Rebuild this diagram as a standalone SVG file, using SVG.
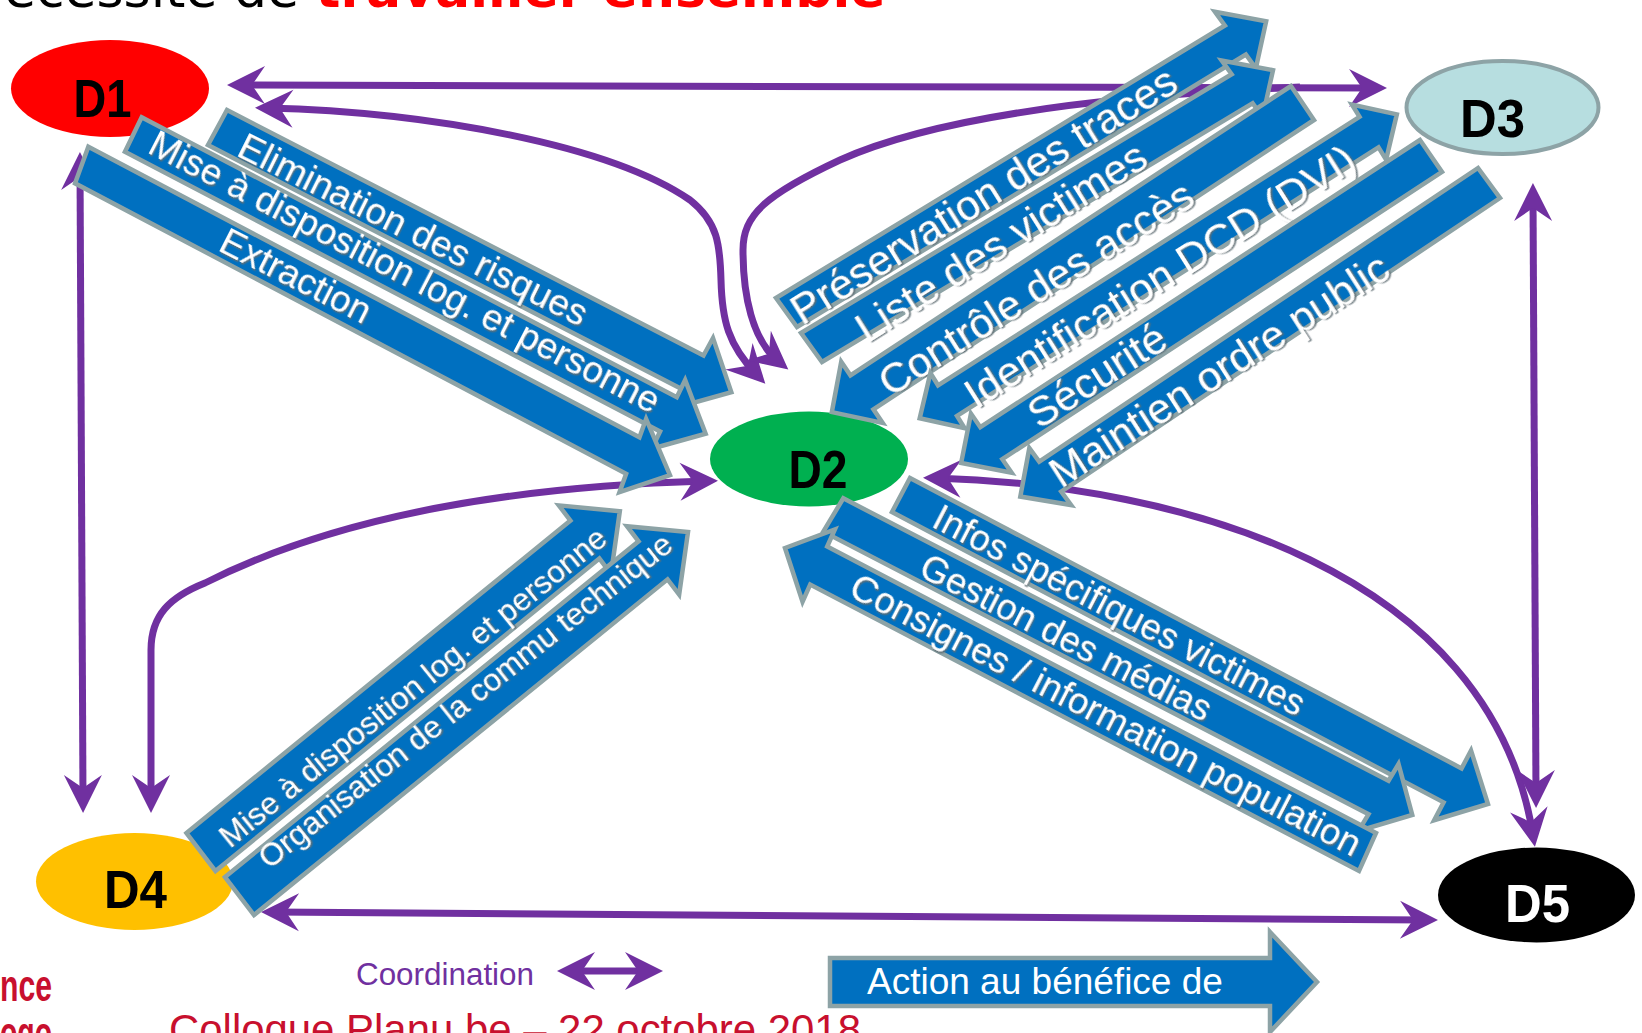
<svg xmlns="http://www.w3.org/2000/svg" width="1642" height="1033" viewBox="0 0 1642 1033">
<style>
.nl{font-family:"Liberation Sans",Arial,sans-serif;font-weight:bold;font-size:54px;text-anchor:middle}
.co{fill:none;stroke:#7030A0;stroke-width:7;marker-start:url(#ah);marker-end:url(#ah)}
.ba{fill:#0070C0;stroke:#8DA3A6;stroke-width:4.5;vector-effect:non-scaling-stroke;stroke-linejoin:miter}
.bt{fill:#FFFFFF;font-family:"Liberation Sans",Arial,sans-serif;filter:url(#sh)}
</style>
<defs>
<marker id="ah" viewBox="-40 -20 42 40" markerWidth="42" markerHeight="40" refX="-12" refY="0" orient="auto-start-reverse" markerUnits="userSpaceOnUse">
<path d="M0,0 L-38,-19 L-25,0 L-38,19 Z" fill="#7030A0"/>
</marker>
<filter id="sh" x="-5%" y="-30%" width="110%" height="160%">
<feDropShadow dx="1.5" dy="1.5" stdDeviation="0.6" flood-color="#5E6E74" flood-opacity="0.85"/>
</filter>
</defs>
<rect width="1642" height="1033" fill="#FFFFFF"/>

<text x="-35" y="7" font-family="DejaVu Sans, sans-serif" font-size="52" fill="#000000">Nécessité de <tspan fill="#FF0000" font-weight="bold">travailler ensemble</tspan></text>

<g id="D1"><ellipse cx="110" cy="88.5" rx="99" ry="48.5" fill="#FF0000"/><text class="nl" x="102.5" y="117" textLength="58" lengthAdjust="spacingAndGlyphs">D1</text></g>
<g id="D2"><ellipse cx="809" cy="459" rx="99" ry="47.5" fill="#00B050"/><text class="nl" x="818" y="488" textLength="59" lengthAdjust="spacingAndGlyphs">D2</text></g>
<g id="D3"><ellipse cx="1502.5" cy="107.5" rx="96" ry="46.5" fill="#B7DEE0" stroke="#8DA3A6" stroke-width="4"/><text class="nl" x="1492.5" y="137" textLength="65" lengthAdjust="spacingAndGlyphs">D3</text></g>
<g id="D4"><ellipse cx="134.5" cy="881.5" rx="98.5" ry="48.5" fill="#FFC000"/><text class="nl" x="135.5" y="908" textLength="63" lengthAdjust="spacingAndGlyphs">D4</text></g>
<g id="D5"><ellipse cx="1536.5" cy="895" rx="98.5" ry="47.5" fill="#000000"/><text class="nl" x="1537.5" y="922" textLength="65" lengthAdjust="spacingAndGlyphs" fill="#FFFFFF">D5</text></g>

<g id="connectors">
<path class="co" d="M239,85 L1375,88"/>
<path class="co" d="M267,108 C430,112 610,145 690,200 C718,222 720,245 721,280 C722,320 728,345 757,375"/>
<path class="co" style="marker-start:none" d="M1300,87 C1120,95 940,115 840,160 C765,195 743,215 743,250 C743,295 752,340 779,362"/>
<path class="co" d="M80,164 L83,801"/>
<path class="co" d="M151,801 L151,650 C151,615 170,597 205,583 C300,535 450,488 706,481"/>
<path class="co" d="M273,912 L1426,920"/>
<path class="co" d="M935,478 C1180,485 1490,570 1533,835"/>
<path class="co" d="M1533,195 L1536,796"/>
</g>

<g id="actions">
<g id="a-elimination">
<polygon class="ba" transform="matrix(0.889 0.458 -9.5 17.5 217.5 127.5)" points="0,-1 536,-1 536,-2 578,0 536,2 536,1 0,1"/>
<text class="bt" font-size="37.5" transform="translate(235,155) rotate(26.5)">Elimination des risques</text>
</g>
<g id="a-mise1">
<polygon class="ba" transform="matrix(0.886 0.4633 -8.35 17.2 133.3 134.5)" points="0,-1 604,-1 604,-2 646,0 604,2 604,1 0,1"/>
<text class="bt" font-size="37" transform="translate(146,152) rotate(27.4)">Mise à disposition log. et personne</text>
</g>
<g id="a-extraction">
<polygon class="ba" transform="matrix(0.8846 0.4664 -6.65 18.3 81.7 165)" points="0,-1 623,-1 623,-2 665,0 623,2 623,1 0,1"/>
<text class="bt" font-size="37" transform="translate(216.7,249.8) rotate(27)">Extraction</text>
</g>
<g id="a-preservation">
<polygon class="ba" transform="matrix(0.855 -0.519 10.5 14.5 786.5 312.5)" points="0,-1 525,-1 525,-1.95 561,0 525,1.95 525,1 0,1"/>
<text class="bt" font-size="42.5" transform="translate(802,326) rotate(-32)">Préservation des traces</text>
</g>
<g id="a-liste">
<polygon class="ba" transform="matrix(0.857 -0.515 10.5 14.5 811.5 347.5)" points="0,-1 502.5,-1 502.5,-1.95 538.5,0 502.5,1.95 502.5,1 0,1"/>
<text class="bt" font-size="42.5" transform="translate(867,344) rotate(-32.3)">Liste des victimes</text>
</g>
<g id="a-controle">
<polygon class="ba" transform="matrix(-0.836 0.549 11.5 17 1302.5 103)" points="0,-1 527,-1 527,-1.8 563,0 527,1.8 527,1 0,1"/>
<text class="bt" font-size="42.5" transform="translate(890,398) rotate(-32.3)">Contrôle des accès</text>
</g>
<g id="a-identification">
<polygon class="ba" transform="matrix(0.843 -0.537 9.5 15.3 919.7 418.3)" points="0,0 33,-1.8 33,-1 533,-1 533,-1.8 566,0 533,1.8 533,1 33,1 33,1.8"/>
<text class="bt" font-size="42.5" transform="translate(976,410) rotate(-32.3)">Identification DCD (DVI)</text>
</g>
<g id="a-securite">
<polygon class="ba" transform="matrix(-0.8375 0.547 11 16 1431 156)" points="0,-1 525,-1 525,-1.85 561,0 525,1.85 525,1 0,1"/>
<text class="bt" font-size="42.5" transform="translate(1039,430) rotate(-32.5)">Sécurité</text>
</g>
<g id="a-maintien">
<polygon class="ba" transform="matrix(-0.831 0.556 11 15 1489 183)" points="0,-1 528,-1 528,-1.9 564,0 528,1.9 528,1 0,1"/>
<text class="bt" font-size="42.5" transform="translate(1061,489) rotate(-32.7)">Maintien ordre public</text>
</g>
<g id="a-mise4">
<polygon class="ba" transform="matrix(0.7756 -0.6312 14.5 19 201 852)" points="0,-1 495,-1 495,-1.8 540,0 495,1.8 495,1 0,1"/>
<text class="bt" font-size="31.7" transform="translate(230,849) rotate(-39)">Mise à disposition log. et personne</text>
</g>
<g id="a-organisation">
<polygon class="ba" transform="matrix(0.7765 -0.6302 14.5 19 239.5 896)" points="0,-1 532.6,-1 532.6,-1.8 577.6,0 532.6,1.8 532.6,1 0,1"/>
<text class="bt" font-size="31.8" transform="translate(269,870) rotate(-38.4)">Organisation de la commu technique</text>
</g>
<g id="a-infos">
<polygon class="ba" transform="matrix(0.8848 0.4658 -9 17 901 495)" points="0,-1 623.4,-1 623.4,-2.05 663.4,0 623.4,2.05 623.4,1 0,1"/>
<text class="bt" font-size="36.5" transform="translate(930,526) rotate(27.5)">Infos spécifiques victimes</text>
</g>
<g id="a-gestion">
<polygon class="ba" transform="matrix(0.888 0.46 -10 16.7 833.3 515)" points="0,-1 614,-1 614,-2 652,0 614,2 614,1 0,1"/>
<text class="bt" font-size="36.5" transform="translate(917,575) rotate(27.2)">Gestion des médias</text>
</g>
<g id="a-consignes">
<polygon class="ba" transform="matrix(-0.8866 -0.4627 -8.5 19 1367.5 852)" points="0,-1 619,-1 619,-1.9 657,0 619,1.9 619,1 0,1"/>
<text class="bt" font-size="37" transform="translate(847,595) rotate(27.4)">Consignes / information population</text>
</g>
</g>

<g id="legend">
<text x="356" y="985" font-family="Liberation Sans, Arial, sans-serif" font-size="31" fill="#7030A0" textLength="178" lengthAdjust="spacingAndGlyphs">Coordination</text>
<path class="co" d="M569,971 L651,971"/>
<polygon points="830,958 1270,958 1270,932 1317,982 1270,1032 1270,1006 830,1006" fill="#0070C0" stroke="#8DA3A6" stroke-width="4.5"/>
<text x="867" y="994" font-size="37" fill="#FFFFFF" font-family="Liberation Sans, Arial, sans-serif">Action au bénéfice de</text>
</g>

<g id="footer" fill="#C8102E" font-family="Liberation Sans, Arial, sans-serif">
<text x="0" y="1001" font-size="44" font-weight="bold" textLength="52" lengthAdjust="spacingAndGlyphs">nce</text>
<text x="0" y="1048" font-size="44" font-weight="bold" textLength="52" lengthAdjust="spacingAndGlyphs">ogo</text>
<text x="169" y="1044" font-size="42" textLength="692" lengthAdjust="spacingAndGlyphs">Colloque Planu.be – 22 octobre 2018</text>
</g>
</svg>
